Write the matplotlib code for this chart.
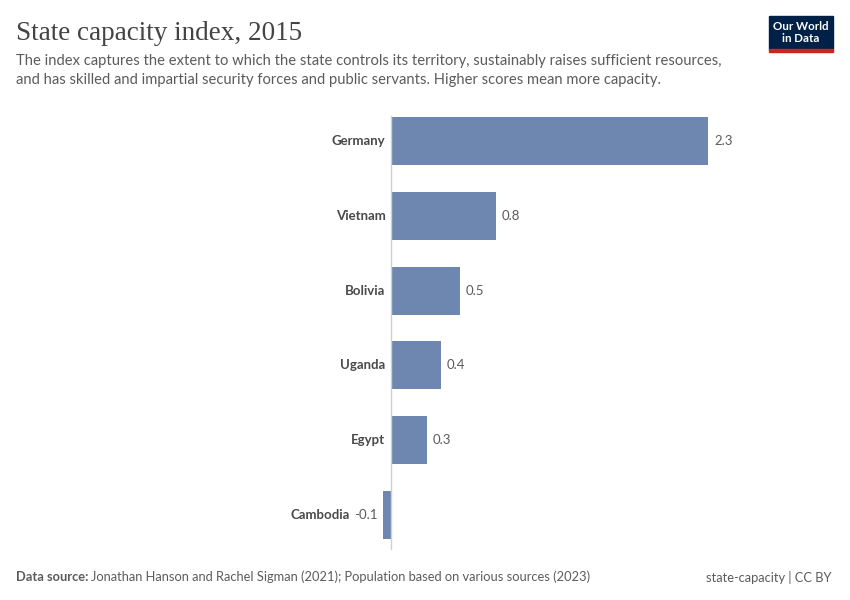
import matplotlib.pyplot as plt
from matplotlib.patches import Rectangle

countries = ['Germany', 'Vietnam', 'Bolivia', 'Uganda', 'Egypt', 'Cambodia']
values = [2.3, 0.76, 0.5, 0.36, 0.26, -0.06]

plt.rcParams['font.family'] = ['Lato', 'DejaVu Sans']

W, H = 850, 600
fig = plt.figure(figsize=(8.5, 6), dpi=100)

def px(x, y):
    return x / W, 1 - y / H

# axes placed in pixel space: zero line at x=391, 138 px per unit
left, right, top, bottom = 300, 780, 110, 550
ppu = 138.0
ax = fig.add_axes([left / W, 1 - bottom / H, (right - left) / W, (bottom - top) / H])
ax.set_xlim(-(391 - left) / ppu, (right - 391) / ppu)
step = 74.8
ax.set_ylim(5 + (bottom - 515) / step, -(141 - top) / step)
ax.axis('off')

bar_color = '#6d87b1'
ypos = list(range(len(countries)))
ax.barh(ypos, values, height=0.64, color=bar_color, zorder=2)
ax.plot([0, 0], [5.46, -0.33], color='#d0d0d0', lw=1, zorder=3)

for y, name, v in zip(ypos, countries, values):
    lab = f'{v:.1f}'
    if v >= 0:
        ax.annotate(lab, (v, y), xytext=(4, 0), textcoords='offset points',
                    ha='left', va='center', fontsize=9.5, color='#5b5b5b')
        ax.annotate(name, (0, y), xytext=(-4, 0), textcoords='offset points',
                    ha='right', va='center', fontsize=9.5, color='#4a4a4a',
                    fontweight='bold')
    else:
        ax.annotate(lab, (v, y), xytext=(-4, 0), textcoords='offset points',
                    ha='right', va='center', fontsize=9.5, color='#5b5b5b')
        ax.annotate(name, (v, y), xytext=(-24, 0), textcoords='offset points',
                    ha='right', va='center', fontsize=9.5, color='#4a4a4a',
                    fontweight='bold')

# title and subtitle
fig.text(*px(16, 33), 'State capacity index, 2015', fontsize=19.5,
         family=['Liberation Serif', 'DejaVu Serif'], color='#444444', va='center')
fig.text(*px(16, 61), 'The index captures the extent to which the state controls its territory, '
         'sustainably raises sufficient resources,', fontsize=10.65, color='#5b5b5b', va='center')
fig.text(*px(16, 80), 'and has skilled and impartial security forces and public servants. '
         'Higher scores mean more capacity.', fontsize=10.65, color='#5b5b5b', va='center')

# logo
lx, ly, lw, lh = 769, 16, 64, 33
fig.patches.append(Rectangle(px(lx, ly + lh), lw / W, lh / H, transform=fig.transFigure,
                             color='#002147', zorder=5))
fig.patches.append(Rectangle(px(lx, ly + lh + 3), lw / W, 3 / H, transform=fig.transFigure,
                             color='#ce261e', zorder=5))
fig.text(*px(lx + lw / 2, ly + 10), 'Our World', fontsize=8.3, color='white',
         ha='center', va='center', zorder=6, fontweight='bold')
fig.text(*px(lx + lw / 2, ly + 23), 'in Data', fontsize=8.3, color='white',
         ha='center', va='center', zorder=6, fontweight='bold')

# footer
fig.text(*px(16, 577), 'Data source:', fontsize=9.3, color='#5b5b5b', fontweight='bold', va='center')
fig.text(*px(91, 577), 'Jonathan Hanson and Rachel Sigman (2021); Population based on various sources (2023)',
         fontsize=9.3, color='#5b5b5b', va='center')
fig.text(*px(832, 577), 'state-capacity | CC BY', fontsize=9.3, color='#5b5b5b',
         ha='right', va='center')

fig.savefig('out.png', dpi=100, facecolor='white')
